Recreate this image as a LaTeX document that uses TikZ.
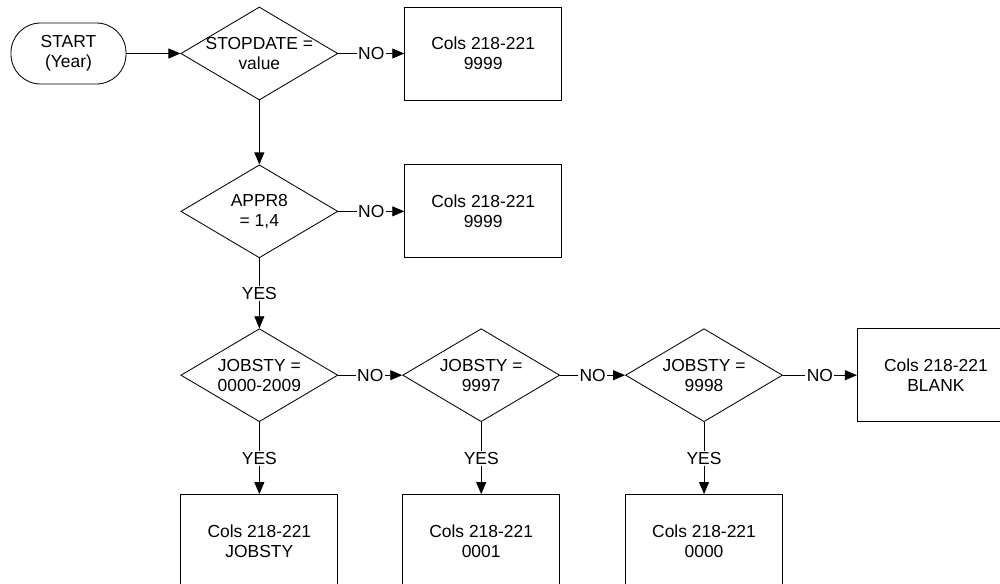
\documentclass[tikz,border=0pt]{standalone}
\usepackage{fontspec}
\setmainfont{Liberation Sans}
\usepackage{tikz}
\usetikzlibrary{shapes.geometric, arrows.meta, positioning}
\tikzset{
    termblk/.style={rectangle, rounded corners=0.74cm, minimum width=2.875cm, minimum height=1.525cm, align=center, draw=black, line width=0.6pt},
    choice/.style={diamond, aspect=1.7, minimum width=3.925cm, minimum height=2.325cm, inner xsep=-1cm, inner ysep=-0.3cm, align=center, draw=black, line width=0.6pt},
    colbox/.style={rectangle, minimum width=3.925cm, minimum height=2.325cm, align=center, draw=black, line width=0.6pt},
    flow/.style={-{Triangle[length=3mm, width=2.5mm]}, line width=0.6pt},
    tag/.style={fill=white, inner sep=1pt}
}

\begin{document}
\begin{tikzpicture}[node distance=1.6cm and 1.65cm,
  font=\fontsize{12.4}{14.2}\selectfont]
  \useasboundingbox (0,0) rectangle (25,-14.575);
  \node[termblk] (start) at (1.7125,-1.3375) {START\\(Year)};
  \node[choice, right=1.35cm of start] (stopdate) {STOPDATE =\\value};
  \node[colbox, right=of stopdate] (outa) {Cols 218-221\\9999};
  \node[choice, below=of stopdate] (appr) {APPR8\\= 1,4};
  \node[colbox, right=of appr] (outb) {Cols 218-221\\9999};
  \node[choice, below=1.75cm of appr] (jobyr) {JOBSTY =\\0000-2009};
  \node[choice, right=1.6cm of jobyr] (jobsev) {JOBSTY =\\9997};
  \node[choice, right=1.625cm of jobsev] (jobeig) {JOBSTY =\\9998};
  \node[colbox, right=1.85cm of jobeig] (outblank) {Cols 218-221\\BLANK};
  \node[colbox, below=1.8cm of jobyr] (outjob) {Cols 218-221\\JOBSTY};
  \node[colbox, below=1.8cm of jobsev] (outone) {Cols 218-221\\0001};
  \node[colbox, below=1.8cm of jobeig] (outzero) {Cols 218-221\\0000};
  \draw[flow] (start) -- (stopdate);
  \draw[flow] (stopdate) -- node[tag]{NO} (outa);
  \draw[flow] (stopdate) -- (appr);
  \draw[flow] (appr) -- node[tag]{NO} (outb);
  \draw[flow] (appr) -- node[tag]{YES} (jobyr);
  \draw[flow] (jobyr) -- node[tag]{NO} (jobsev);
  \draw[flow] (jobsev) -- node[tag]{NO} (jobeig);
  \draw[flow] (jobeig) -- node[tag]{NO} (outblank);
  \draw[flow] (jobyr) -- node[tag]{YES} (outjob);
  \draw[flow] (jobsev) -- node[tag]{YES} (outone);
  \draw[flow] (jobeig) -- node[tag]{YES} (outzero);
\end{tikzpicture}
\end{document}
